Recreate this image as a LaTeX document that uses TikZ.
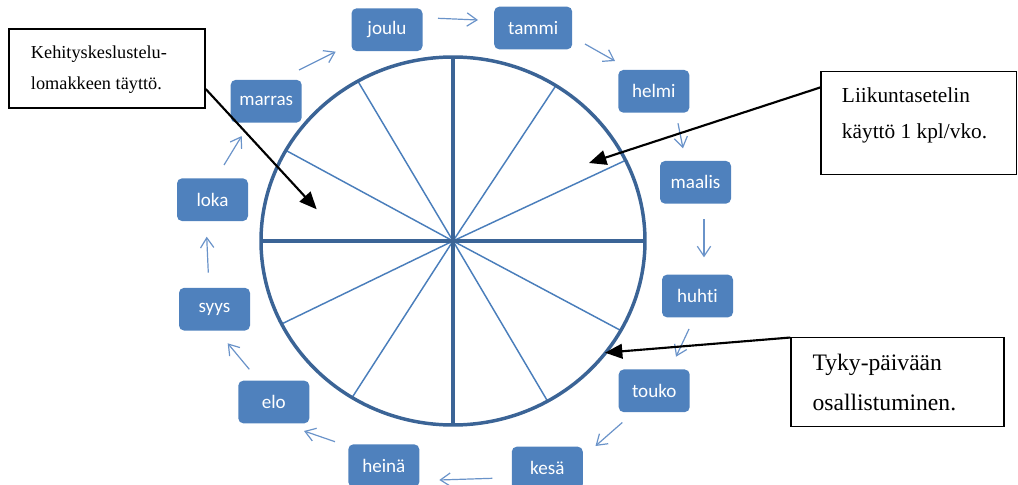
\documentclass[tikz,border=0pt]{standalone}
\usepackage{fontspec}
\setmainfont{Liberation Serif}
\newfontfamily\monthfont[RawFeature={-liga}]{Carlito}
\usetikzlibrary{arrows.meta,calc}
\definecolor{boxblue}{HTML}{4F81BD}
\definecolor{rimblue}{HTML}{3B6496}
\definecolor{spokeblue}{HTML}{4A7EBB}
\definecolor{cycblue}{HTML}{6A93C9}

\begin{document}
\begin{tikzpicture}[x=0.75pt,y=-0.75pt,
  month/.style={fill=boxblue, rounded corners=3.75pt, minimum width=53.25pt,
    minimum height=32pt, inner sep=0pt, text=white,
    font=\monthfont\fontsize{14.3}{16}\selectfont},
  cycarrow/.style={draw=cycblue, line width=0.9pt,
    -{Straight Barb[length=7.5pt,width=10pt]}},
  callbox/.style={draw=black, line width=1.2pt, fill=white, inner sep=0pt},
  calltext/.style={inner sep=0pt, anchor=base west},
  callarrow/.style={draw=black, line width=1.6pt,
    -{Triangle[length=13pt,width=11pt]}},
  rim/.style={draw=rimblue, line width=2.6pt},
  thinspoke/.style={draw=spokeblue, line width=1.1pt}
]
\useasboundingbox (0,0) rectangle (1018,485);

% ---- the year wheel ----
\coordinate (c) at (453,241);
\foreach \a in {26,57.6,119.7,150.5,206.8,238.3,299.5,330.9}
  \draw[thinspoke] (c) -- ({453+192*cos(\a)},{241-184*sin(\a)});
\draw[rim] (261,241) -- (645,241);
\draw[rim] (453,57) -- (453,425);
\draw[rim] (c) ellipse [x radius=192, y radius=184];

% ---- months ----
\node[month] (joulu)  at (387,29.7)  {joulu};
\node[month, minimum width=58.5pt] (tammi) at (533.2,28) {tammi};
\node[month] (helmi)  at (653.8,91.3) {helmi};
\node[month] (maalis) at (695.5,182.3) {maalis};
\node[month] (huhti)  at (697.5,296)  {huhti};
\node[month] (touko)  at (654.2,390.8) {touko};
\node[month] (kesa)   at (547.3,468)  {kesä};
\node[month] (heina)  at (383.8,465.7) {heinä};
\node[month] (elo)    at (273.8,402)  {elo};
\node[month] (syys)   at (214.5,309.2) {syys};
\node[month] (loka)   at (212.5,199.7) {loka};
\node[month] (marras) at (266.2,101.2) {marras};

% ---- cycle arrows between consecutive months ----
\draw[cycarrow] ([shift={(51,-11.4)}]joulu.center)   -- ([shift={(-55.2,-8)}]tammi.center);
\draw[cycarrow] ([shift={(51.8,16)}]tammi.center)    -- ([shift={(-38.8,-30.3)}]helmi.center);
\draw[cycarrow] ([shift={(24.2,32)}]helmi.center)    -- ([shift={(-12.5,-34)}]maalis.center);
\draw[cycarrow] ([shift={(8.5,37)}]maalis.center)    -- ([shift={(6.5,-38.7)}]huhti.center);
\draw[cycarrow] ([shift={(-8.5,33)}]huhti.center)    -- ([shift={(21.8,-34.1)}]touko.center);
\draw[cycarrow] ([shift={(-31.9,31.7)}]touko.center) -- ([shift={(48.2,-22)}]kesa.center);
\draw[cycarrow] ([shift={(-55,10.3)}]kesa.center)    -- ([shift={(55.5,14.3)}]heina.center);
\draw[cycarrow] ([shift={(-48.8,-24)}]heina.center)  -- ([shift={(30.2,29)}]elo.center);
\draw[cycarrow] ([shift={(-24.5,-32.7)}]elo.center)  -- ([shift={(13.2,34.1)}]syys.center);
\draw[cycarrow] ([shift={(-6.2,-36.5)}]syys.center)  -- ([shift={(-5.8,37)}]loka.center);
\draw[cycarrow] ([shift={(11.5,-34.7)}]loka.center)  -- ([shift={(-24.5,34.8)}]marras.center);
\draw[cycarrow] ([shift={(32.8,-31.2)}]marras.center) -- ([shift={(-51.3,22)}]joulu.center);

% ---- callouts ----
\node[callbox, minimum width=147pt, minimum height=59.25pt] (keh) at (107,68.8) {};
\node[calltext, font=\fontsize{13.7}{23.7}\selectfont] (kehtext) at (30.7,58.3)
  {\vtop{\hbox{Kehityskeslustelu-}\hbox{lomakkeen täyttö.}}};

\node[callbox, minimum width=146.6pt, minimum height=77pt] (liik) at (918.75,123) {};
\node[calltext, font=\fontsize{16}{27.2}\selectfont] (liiktext) at (841.7,102.7)
  {\vtop{\hbox{Liikuntasetelin}\hbox{käyttö 1 kpl/vko.}}};

\node[callbox, minimum width=159.75pt, minimum height=67pt] (tyky) at (897.5,382) {};
\node[calltext, font=\fontsize{17.7}{30.5}\selectfont] (tykytext) at (812.3,370)
  {\vtop{\hbox{Tyky-päivään}\hbox{osallistuminen.}}};

\coordinate (kehtip)  at (316.7,209.3);
\coordinate (liiktip) at (589,163);
\coordinate (tykytip) at (605,352.7);
\draw[callarrow] ($(keh.south east)+(0,-20)$) -- (kehtip);
\draw[callarrow] ($(liik.north west)+(0,16.6)$) -- (liiktip);
\draw[callarrow] ($(tyky.north west)+(0,1)$) -- (tykytip);
\end{tikzpicture}
\end{document}
